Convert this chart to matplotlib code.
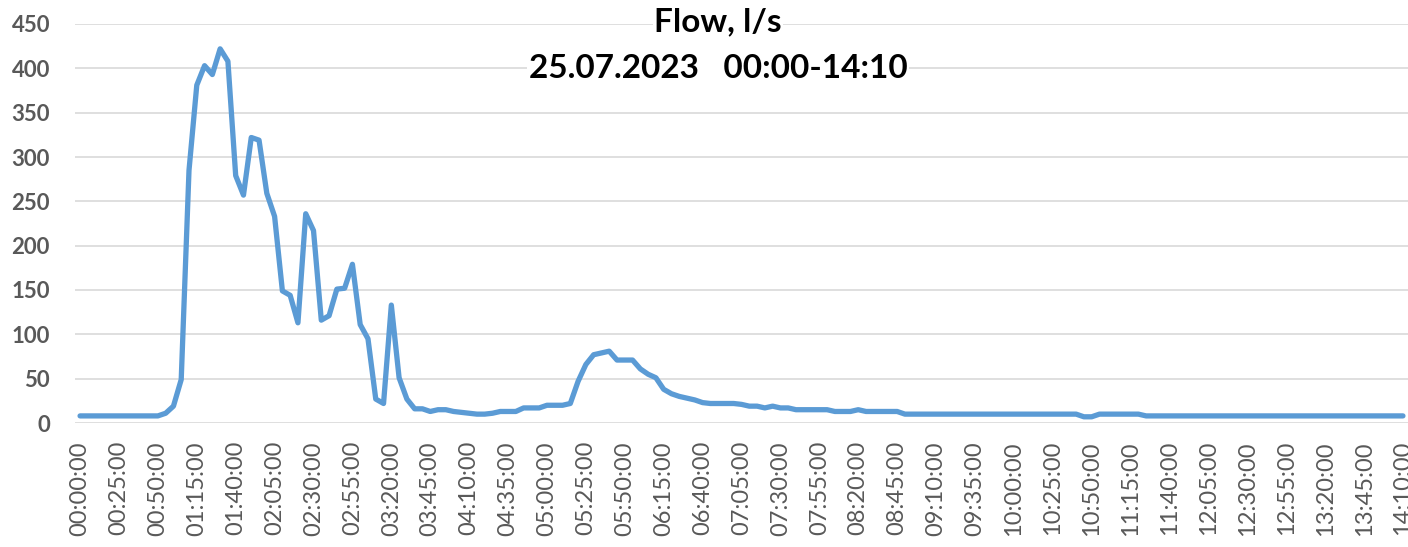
import matplotlib
matplotlib.use("Agg")
import matplotlib.pyplot as plt

title_line1 = "Flow, l/s"
title_line2 = "25.07.2023   00:00-14:10"

tick_labels = [
    "00:00:00", "00:25:00", "00:50:00", "01:15:00", "01:40:00", "02:05:00",
    "02:30:00", "02:55:00", "03:20:00", "03:45:00", "04:10:00", "04:35:00",
    "05:00:00", "05:25:00", "05:50:00", "06:15:00", "06:40:00", "07:05:00",
    "07:30:00", "07:55:00", "08:20:00", "08:45:00", "09:10:00", "09:35:00",
    "10:00:00", "10:25:00", "10:50:00", "11:15:00", "11:40:00", "12:05:00",
    "12:30:00", "12:55:00", "13:20:00", "13:45:00", "14:10:00",
]

# flow (l/s) every 5 minutes, 00:00 .. 14:10
flow_0000_0355 = [
    8, 8, 8, 8, 8, 8, 8, 8, 8, 8, 8, 11, 19, 49, 285, 381, 403, 393, 422, 408,
    279, 257, 322, 319, 259, 233, 149, 144, 113, 236, 217, 116, 121, 151, 152,
    179, 111, 95, 27, 22, 133, 51, 27, 16, 16, 13, 15, 15,
]
flow_0400_0755 = [
    13, 12, 11, 10, 10, 11, 13, 13, 13, 17, 17, 17, 20, 20, 20, 22, 47, 66, 77,
    79, 81, 71, 71, 71, 61, 55, 51, 38, 33, 30, 28, 26, 23, 22, 22, 22, 22, 21,
    19, 19, 17, 19, 17, 17, 15, 15, 15, 15,
]
flow_0800_1155 = [
    15, 13, 13, 13, 15, 13, 13, 13, 13, 13, 10, 10, 10, 10, 10, 10, 10, 10, 10,
    10, 10, 10, 10, 10, 10, 10, 10, 10, 10, 10, 10, 10, 10, 7, 7, 10, 10, 10,
    10, 10, 10, 8, 8, 8, 8, 8, 8, 8,
]
flow_1200_1410 = [8] * 27

flow = flow_0000_0355 + flow_0400_0755 + flow_0800_1155 + flow_1200_1410

W, H = 1408, 547
fig = plt.figure(figsize=(W / 100, H / 100), dpi=100)
ax_left, ax_right = 75, 1408
ax_top, ax_bottom = 24, 423
ax = fig.add_axes([ax_left / W, (H - ax_bottom) / H,
                   (ax_right - ax_left) / W, (ax_bottom - ax_top) / H])

x = list(range(len(flow)))
ax.plot(x, flow, color="#5B9BD5", lw=3.8, solid_joinstyle="round",
        solid_capstyle="round", zorder=3)

ax.set_xlim(-0.65, len(flow) - 1 + 0.65)
ax.set_ylim(0, 450)
ax.set_yticks(range(0, 451, 50))
ax.yaxis.grid(True, color="#D9D9D9", lw=1.2, zorder=0)
ax.set_axisbelow(True)
ax.set_xticks(range(0, len(flow), 5))
ax.set_xticklabels(tick_labels, rotation=90, family="Lato", fontsize=17,
                   color="#595959")
for lbl in ax.get_yticklabels():
    lbl.set_family("Lato")
    lbl.set_fontweight("bold")
    lbl.set_fontsize(16)
    lbl.set_color("#595959")
ax.tick_params(axis="both", length=0)
ax.tick_params(axis="y", pad=18)
ax.tick_params(axis="x", pad=13)
for s in ax.spines.values():
    s.set_visible(False)

tx = 718 / W
fig.text(tx, 1 - 22 / H, title_line1, ha="center", va="center", family="Lato",
         fontweight="bold", fontsize=24, color="black",
         bbox=dict(facecolor="white", edgecolor="none", pad=1))
fig.text(tx, 1 - 68 / H, title_line2, ha="center", va="center", family="Lato",
         fontweight="bold", fontsize=24, color="black",
         bbox=dict(facecolor="white", edgecolor="none", pad=1))

fig.savefig("out.png", dpi=100, facecolor="white")
